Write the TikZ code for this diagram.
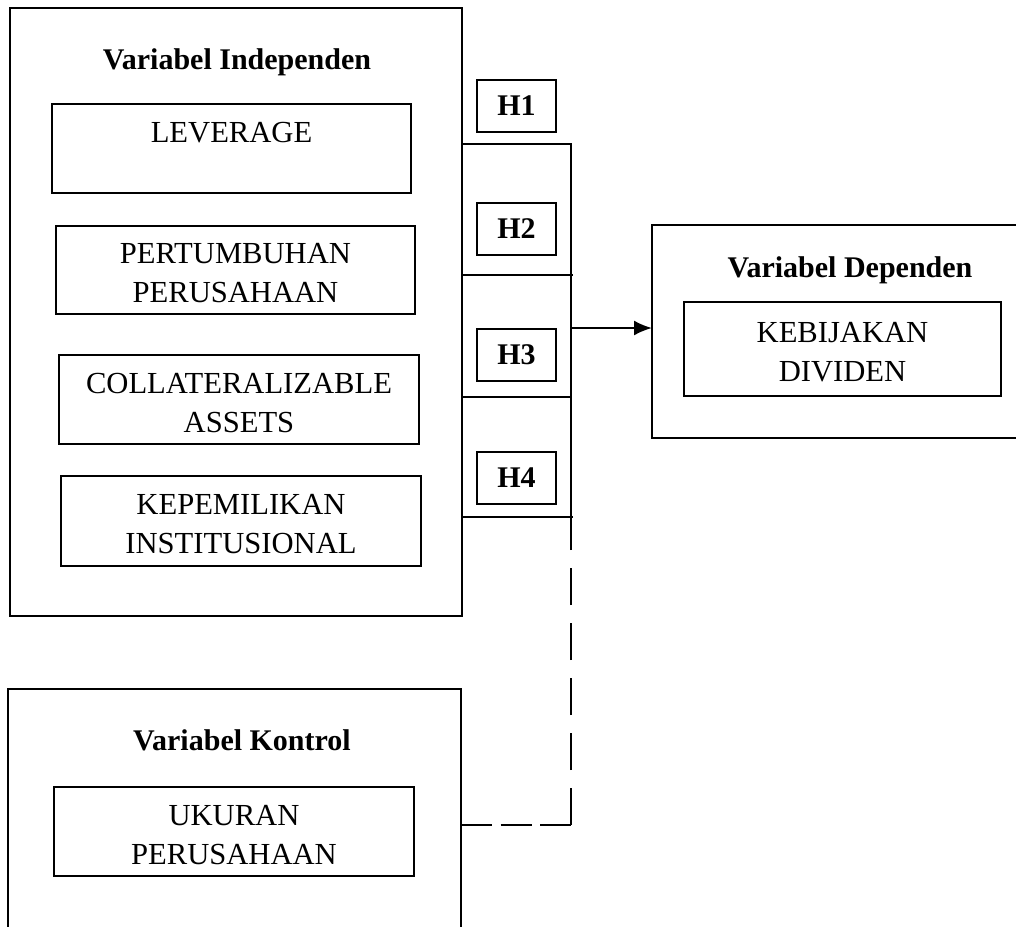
\documentclass[tikz,border=0pt]{standalone}
\usepackage{fontspec}
\setmainfont{Liberation Serif}
\usetikzlibrary{arrows.meta}
\begin{document}
\begin{tikzpicture}[x=0.5pt,y=-0.5pt,
  every node/.style={inner sep=0pt, outer sep=0pt},
  boxline/.style={draw, line width=1pt},
  container/.style={boxline},
  varbox/.style={boxline, align=center, text height=32.6pt, text depth=0pt, font=\fontsize{15.3}{19.5}\selectfont},
  hbox/.style={boxline, minimum width=39.5pt, minimum height=26pt, font=\fontsize{15}{18}\selectfont\bfseries},
  title/.style={anchor=base, font=\fontsize{15}{18}\selectfont\bfseries},
  conn/.style={line width=1pt},
  vdash/.style={conn, dash pattern=on 18.5pt off 9pt},
  hdash/.style={conn, dash pattern=on 15.5pt off 4.25pt}
]
\useasboundingbox (0,0) rectangle (1016,926);

% Independent variables
\node[container, minimum width=226pt, minimum height=304pt] (indep) at (236,312) {};
\node[title] (tind) at (237,69) {Variabel Independen};
\node[varbox, minimum width=179.5pt, minimum height=44.5pt] (lev) at (231.5,148.5) {LEVERAGE\\\mbox{}};
\node[varbox, minimum width=179.5pt, minimum height=44pt] (pert) at (235.5,270) {PERTUMBUHAN\\PERUSAHAAN};
\node[varbox, minimum width=180pt, minimum height=44.5pt] (coll) at (239,399.5) {COLLATERALIZABLE\\ASSETS};
\node[varbox, minimum width=180pt, minimum height=45pt] (kep) at (241,521) {KEPEMILIKAN\\INSTITUSIONAL};

% Hypotheses
\node[hbox] (h1) at (516.5,106) {H1};
\node[hbox] (h2) at (516.5,229) {H2};
\node[hbox] (h3) at (516.5,354.5) {H3};
\node[hbox] (h4) at (516.5,478) {H4};

% Dependent variable
\node[container, minimum width=189pt, minimum height=106.5pt] (dep) at (841,331.5) {};
\node[title] (tdep) at (850,277) {Variabel Dependen};
\node[varbox, minimum width=158.5pt, minimum height=47pt] (keb) at (842.5,349) {KEBIJAKAN\\DIVIDEN};

% Control variable
\node[container, minimum width=226.5pt, minimum height=125.5pt] (ctrl) at (234.5,814.5) {};
\node[title] (tctrl) at (242,750) {Variabel Kontrol};
\node[varbox, minimum width=180pt, minimum height=44.5pt] (uku) at (234,831.5) {UKURAN\\PERUSAHAAN};

% Junction coordinates
\coordinate (j1) at (571,144);
\coordinate (j2) at (573,275);
\coordinate (j3) at (571,397);
\coordinate (j4) at (573,517);
\coordinate (ja) at (571,328);
\coordinate (jc) at (571,825);

% Connectors
\draw[conn] (indep.east |- j1) -- (j1) -- (j1 |- j4);
\draw[conn] (indep.east |- j2) -- (j2);
\draw[conn] (indep.east |- j3) -- (j3);
\draw[conn] (indep.east |- j4) -- (j4);
\draw[conn, -{Latex[length=9pt,width=7.5pt]}] (ja) -- (dep.west |- ja);
\draw[hdash] (ctrl.east |- jc) -- (jc);
\draw[vdash] (jc) -- (jc |- j4);
\end{tikzpicture}
\end{document}
